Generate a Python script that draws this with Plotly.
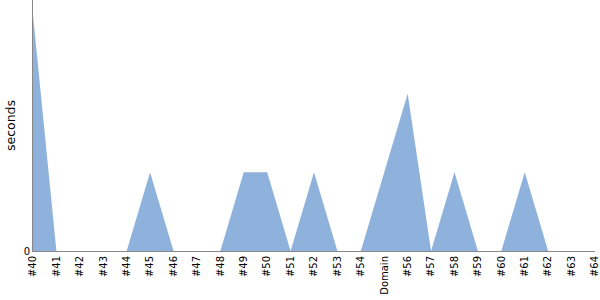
import plotly.graph_objects as go

categories = ["#40", "#41", "#42", "#43", "#44", "#45", "#46", "#47", "#48", "#49",
              "#50", "#51", "#52", "#53", "#54", "Domain", "#56", "#57", "#58", "#59",
              "#60", "#61", "#62", "#63", "#64"]
seconds = [3, 0, 0, 0, 0, 1, 0, 0, 0, 1,
           1, 0, 1, 0, 0, 1, 2, 0, 1, 0,
           0, 1, 0, 0, 0]

fig = go.Figure()
fig.add_trace(go.Scatter(
    x=list(range(len(categories))), y=seconds,
    mode="lines", fill="tozeroy",
    line=dict(width=0, color="rgb(143,178,220)"),
    fillcolor="rgb(143,178,220)",
    hoverinfo="skip",
))
fig.update_layout(
    width=600, height=300,
    margin=dict(l=33, r=5, t=0, b=49),
    paper_bgcolor="white", plot_bgcolor="white",
    showlegend=False,
    font=dict(family="DejaVu Sans", color="black"),
)
fig.update_xaxes(
    tickmode="array", tickvals=list(range(len(categories))), ticktext=categories,
    tickangle=-90, range=[0, len(categories) - 1],
    showgrid=False, zeroline=False, showline=True, linecolor="#888", linewidth=1,
    ticks="", tickfont=dict(size=10), ticklabeloverflow="allow",
)
fig.update_yaxes(
    title=dict(text="seconds", font=dict(size=12.5), standoff=5),
    tickvals=[0], ticktext=["0"], range=[0, 3.19],
    showgrid=False, zeroline=False, showline=True, linecolor="#888", linewidth=1,
    ticks="", tickfont=dict(size=10),
)
fig.write_html("out.html")
